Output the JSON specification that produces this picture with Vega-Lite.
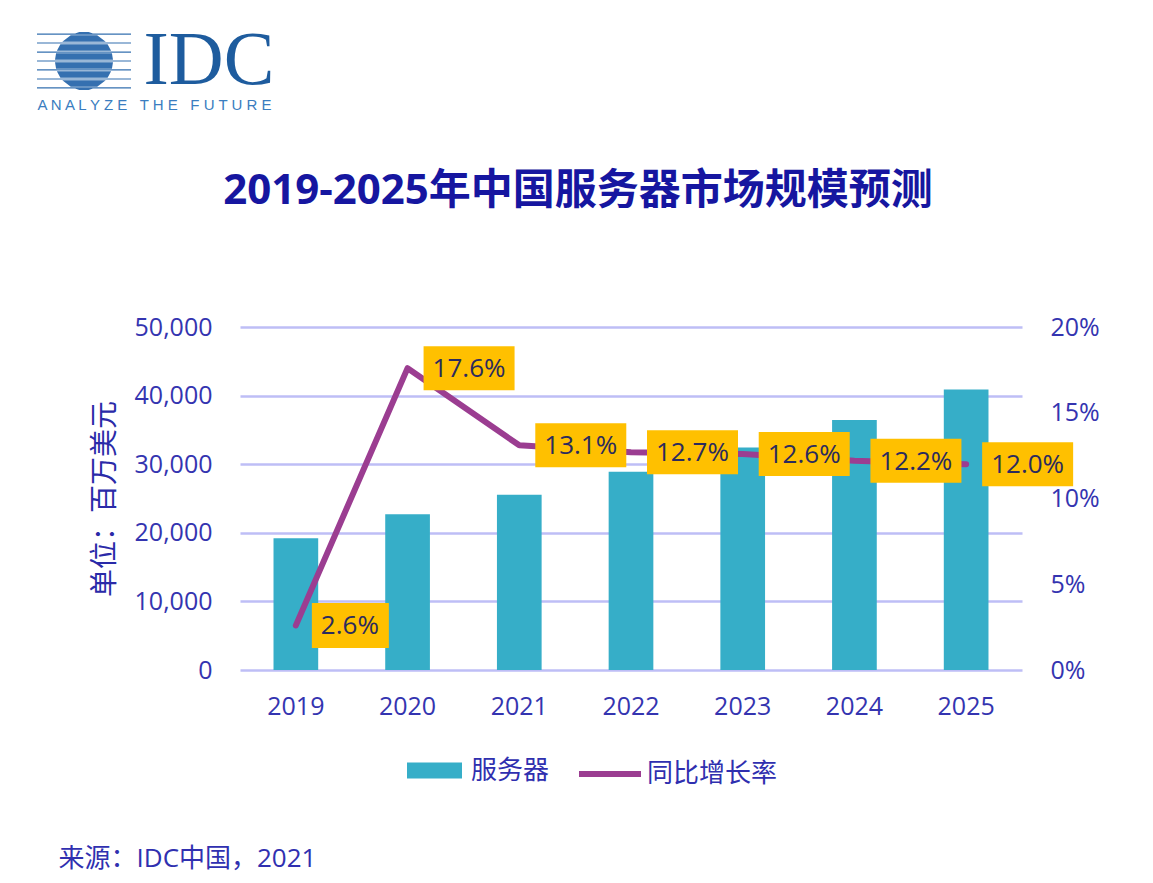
{
  "$schema": "https://vega.github.io/schema/vega-lite/v6.json",
  "width": 782,
  "height": 343,
  "autosize": {"type": "none"},
  "padding": {"left": 240, "top": 327, "right": 131, "bottom": 213},
  "background": "white",
  "config": {"view": {"stroke": null}, "font": "Open Sans, Noto Sans CJK SC"},
  "title": {
    "text": "2019-2025年中国服务器市场规模预测",
    "frame": "group",
    "anchor": "middle",
    "dx": -53,
    "offset": -199,
    "fontSize": 42,
    "fontWeight": "bold",
    "color": "#1616A0",
    "font": "Open Sans, Noto Sans CJK SC"
  },
  "data": {
    "values": [
      {"year": "2019", "servers": 19200, "growth": 0.026},
      {"year": "2020", "servers": 22700, "growth": 0.176},
      {"year": "2021", "servers": 25550, "growth": 0.131},
      {"year": "2022", "servers": 28900, "growth": 0.127},
      {"year": "2023", "servers": 32450, "growth": 0.126},
      {"year": "2024", "servers": 36450, "growth": 0.122},
      {"year": "2025", "servers": 40900, "growth": 0.120}
    ]
  },
  "resolve": {"scale": {"y": "independent"}, "axis": {"x": "independent"}},
  "layer": [
    {
      "mark": {"type": "bar", "color": "#36AEC8"},
      "encoding": {
        "x": {
          "field": "year", "type": "ordinal",
          "scale": {"paddingInner": 0.6, "paddingOuter": 0.3},
          "axis": {
            "orient": "bottom", "labelAngle": 0, "labelFontSize": 25, "labelColor": "#3434B0",
            "labelPadding": 24, "domain": false, "ticks": false, "grid": false,
            "title": "来源：IDC中国，2021", "titleX": -182, "titleY": 196, "titleAlign": "left",
            "titleBaseline": "alphabetic", "titleFontSize": 26, "titleFontWeight": "normal",
            "titleColor": "#3030B0"
          }
        },
        "y": {
          "field": "servers", "type": "quantitative",
          "scale": {"domain": [0, 50000]},
          "axis": {
            "orient": "left", "values": [0, 10000, 20000, 30000, 40000, 50000], "format": ",.0f",
            "labelFontSize": 25, "labelColor": "#3434B0", "labelPadding": 28,
            "grid": true, "gridColor": "#BEBEF6", "gridWidth": 2.5,
            "domain": false, "ticks": false,
            "title": "单位：百万美元", "titleFontSize": 28, "titleFontWeight": "normal",
            "titleColor": "#2A2AA8", "titlePadding": 15
          }
        },
        "color": {
          "datum": "服务器", "type": "nominal",
          "scale": {"range": ["#36AEC8"]},
          "legend": {
            "orient": "none", "legendX": 167, "legendY": 416, "direction": "horizontal",
            "title": null, "symbolType": "M-1,-0.29H1V0.29H-1Z", "symbolSize": 3025,
            "symbolOpacity": 1, "symbolStrokeWidth": 0,
            "labelFontSize": 26, "labelColor": "#2F2FAF", "labelOffset": 9, "padding": 0
          }
        }
      }
    },
    {
      "encoding": {
        "x": {
          "field": "year", "type": "ordinal",
          "axis": {
            "orient": "top", "labels": false, "ticks": false, "domain": false, "grid": false,
            "title": "A N A L Y Z E\u00a0\u00a0\u00a0T H E\u00a0\u00a0\u00a0F U T U R E", "titleX": -203, "titleY": -218,
            "titleAlign": "left", "titleBaseline": "alphabetic", "titleFont": "Liberation Sans",
            "titleFontSize": 15, "titleFontWeight": "normal", "titleColor": "#3A7DC0"
          }
        },
        "y": {
          "field": "growth", "type": "quantitative",
          "scale": {"domain": [0, 0.2]},
          "axis": {
            "orient": "right", "values": [0, 0.05, 0.1, 0.15, 0.2], "format": ".0%",
            "labelFontSize": 25, "labelColor": "#3434B0", "labelPadding": 28,
            "grid": false, "domain": false, "ticks": false,
            "title": "IDC", "titleAngle": 0, "titleX": -879, "titleY": -244,
            "titleAlign": "left", "titleBaseline": "alphabetic", "titleFont": "Liberation Serif",
            "titleFontSize": 76, "titleFontWeight": "normal", "titleColor": "#1E5C9E"
          }
        }
      },
      "layer": [
        {
          "mark": {"type": "line", "strokeWidth": 6, "strokeCap": "round", "strokeJoin": "round"},
          "encoding": {
            "stroke": {
              "datum": "同比增长率", "type": "nominal",
              "scale": {"range": ["#9B3D91"]},
              "legend": {
                "orient": "none", "legendX": 336, "legendY": 413, "direction": "horizontal",
                "title": null, "symbolType": "stroke", "symbolSize": 3844, "symbolStrokeWidth": 6,
                "labelFontSize": 26, "labelColor": "#2F2FAF", "labelOffset": 3, "padding": 0
              }
            },
            "opacity": {
              "datum": "IDC", "type": "ordinal",
              "scale": {"range": [1]},
              "legend": {
                "orient": "none", "legendX": -203, "legendY": -313, "title": null,
                "symbolType": "M-0.1,-0.617L0.1,-0.617L0.189,-0.587L-0.189,-0.587ZM-0.281,-0.549L0.281,-0.549L0.462,-0.409L-0.462,-0.409ZM-0.502,-0.357L0.502,-0.357L0.577,-0.217L-0.577,-0.217ZM-0.594,-0.166L0.594,-0.166L0.617,-0.026L-0.617,-0.026ZM-0.617,0.026L0.617,0.026L0.594,0.166L-0.594,0.166ZM-0.577,0.217L0.577,0.217L0.502,0.357L-0.502,0.357ZM-0.462,0.409L0.462,0.409L0.281,0.549L-0.281,0.549ZM-0.1,0.617L0.1,0.617L0.189,0.587L-0.189,0.587ZM-1,-0.587H1V-0.561H-1ZM-1,-0.396H1V-0.370H-1ZM-1,-0.204H1V-0.178H-1ZM-1,-0.013H1V0.013H-1ZM-1,0.178H1V0.204H-1ZM-1,0.370H1V0.396H-1ZM-1,0.561H1V0.587H-1Z",
                "symbolSize": 8836, "symbolFillColor": "#3570B0", "symbolStrokeColor": "#3570B0", "symbolStrokeWidth": 0,
                "symbolOpacity": 1, "labelExpr": "''", "labelOffset": 0, "padding": 0
              }
            }
          }
        },
        {
          "transform": [{"filter": "datum.growth >= 0.1"}],
          "mark": {"type": "rect", "width": 91, "height": 44, "xOffset": 61.5, "color": "#FFC000"},
          "encoding": {}
        },
        {
          "transform": [{"filter": "datum.growth < 0.1"}],
          "mark": {"type": "rect", "width": 77, "height": 45, "xOffset": 54.5, "color": "#FFC000"},
          "encoding": {}
        },
        {
          "mark": {"type": "text", "align": "left", "dx": 25, "dy": 1, "baseline": "middle", "fontSize": 26, "color": "#2B2B5E"},
          "encoding": {
            "text": {"field": "growth", "type": "quantitative", "format": ".1%"}
          }
        }
      ]
    }
  ]
}
